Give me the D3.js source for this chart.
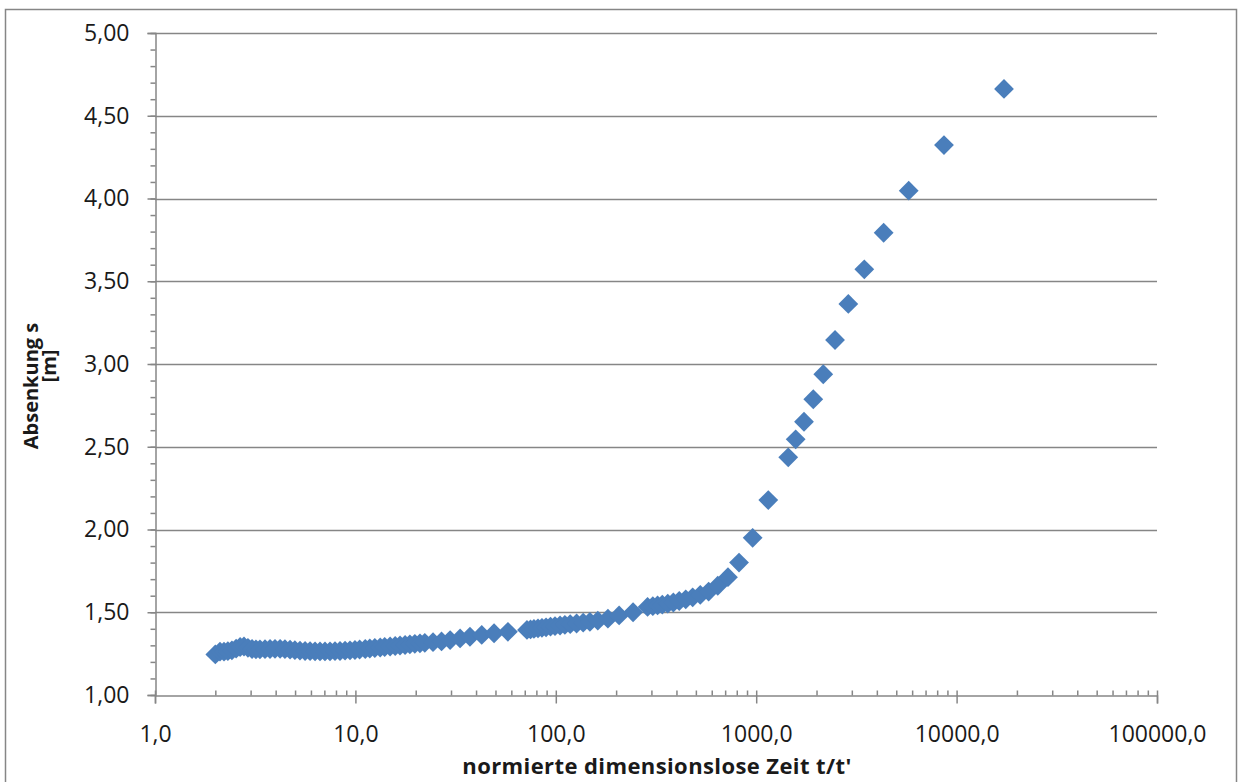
<!DOCTYPE html>
<html>
<head>
<meta charset="utf-8">
<script src="https://cdn.jsdelivr.net/npm/d3@7"></script>
<style>
  body { margin: 0; background: #fff; }
  svg { display: block; }
</style>
</head>
<body>
<svg class="chart" width="1238" height="782"></svg>
<script>
// normierte Zeit t/t'
const timeRatio = [
  2.0, 2.11, 2.21, 2.31, 2.42, 2.54, 2.66, 2.78, 2.91, 3.05, 3.19, 3.34, 3.54, 3.75, 3.97,
  4.21, 4.45, 4.72, 4.99, 5.29, 5.61, 5.94, 6.29, 6.66, 7.05, 7.47, 7.91, 8.38, 8.88, 9.4,
  9.95, 10.5, 11.2, 11.8, 12.5, 13.3, 14.0, 14.9, 15.8, 16.7, 17.7, 18.7, 19.8, 21.0,
  22.2, 24.4, 26.9, 29.7, 33.3, 37.3, 42.7, 49.2, 57.7,
  71.8, 74.8, 77.8, 81.5, 85.3, 89.4, 94.1, 99.1, 105, 111, 118, 127, 137, 148, 162, 182, 207, 243,
  287, 305, 322, 340, 362, 386, 413, 445, 482, 526, 579, 643, 723,
  821, 960, 1149, 1445, 1574, 1732, 1927, 2161, 2474, 2882, 3463, 4325, 5768, 8650, 17240
];

// Absenkung s [m]
const drawdown = [
  1.245, 1.262, 1.262, 1.265, 1.27, 1.28, 1.29, 1.293, 1.285, 1.278, 1.276, 1.276, 1.277, 1.278, 1.279,
  1.279, 1.277, 1.274, 1.271, 1.268, 1.266, 1.265, 1.264, 1.263, 1.263, 1.264, 1.265, 1.266, 1.268, 1.27,
  1.272, 1.275, 1.278, 1.281, 1.284, 1.287, 1.29, 1.293, 1.296, 1.299, 1.302, 1.306, 1.309, 1.312,
  1.315, 1.319, 1.324, 1.332, 1.342, 1.352, 1.363, 1.373, 1.382,
  1.393, 1.396, 1.399, 1.403, 1.406, 1.409, 1.413, 1.416, 1.42, 1.424, 1.428, 1.432, 1.437, 1.442, 1.449, 1.461, 1.481, 1.50,
  1.532, 1.537, 1.541, 1.546, 1.552, 1.559, 1.568, 1.578, 1.59, 1.605, 1.625, 1.66, 1.712,
  1.80, 1.95, 2.178, 2.436, 2.545, 2.651, 2.787, 2.938, 3.145, 3.363, 3.572, 3.793, 4.047, 4.323, 4.662
];

const xTickValues = [1, 10, 100, 1000, 10000, 100000];
const xTickLabels = ["1,0", "10,0", "100,0", "1000,0", "10000,0", "100000,0"];
const yTickValues = [1, 1.5, 2, 2.5, 3, 3.5, 4, 4.5, 5];
const yTickLabels = ["1,00", "1,50", "2,00", "2,50", "3,00", "3,50", "4,00", "4,50", "5,00"];

const svg = d3.select("svg.chart");
const axisColor = "#868686";
const markColor = "#4a7ebb";
const tickFont = "'Open Sans', 'DejaVu Sans', sans-serif";

// chart frame
svg.append("rect")
  .attr("x", 5.5)
  .attr("y", 9.5)
  .attr("width", 1231)
  .attr("height", 800)
  .attr("fill", "none")
  .attr("stroke", axisColor)
  .attr("stroke-width", 1.5);

// prettier-ignore
const x = d3.scaleLog()
  .domain([1, 100000])
  .range([155, 1157]);

// prettier-ignore
const y = d3.scaleLinear()
  .domain([1, 5])
  .range([695, 33]);

// horizontal gridlines
svg.append("g")
  .selectAll("line")
  .data(yTickValues.slice(1))
  .enter()
  .append("line")
  .attr("x1", 155)
  .attr("x2", 1157)
  .attr("y1", (d) => Math.round(y(d)) + 0.5)
  .attr("y2", (d) => Math.round(y(d)) + 0.5)
  .attr("stroke", axisColor)
  .attr("stroke-width", 1.5);

// y axis: minor ticks every 0.1
const yMinor = d3.range(10, 51).map((d) => d / 10);
const yAxisMinor = d3.axisLeft(y).tickValues(yMinor).tickSize(5).tickFormat("");
svg.append("g")
  .attr("transform", "translate(155.5,0)")
  .call(yAxisMinor)
  .call((g) => g.select(".domain").remove())
  .call((g) => g.selectAll("line").attr("stroke", axisColor).attr("stroke-width", 1.5));

const yAxis = d3.axisLeft(y)
  .tickValues(yTickValues)
  .tickSize(8)
  .tickPadding(18)
  .tickFormat((d, i) => yTickLabels[i]);
svg.append("g")
  .attr("transform", "translate(155.5,0)")
  .call(yAxis)
  .call((g) => g.select(".domain").attr("stroke", axisColor).attr("stroke-width", 1.5))
  .call((g) => g.selectAll("line").attr("stroke", axisColor).attr("stroke-width", 1.5))
  .call((g) => g.selectAll("text")
    .attr("fill", "#1a1a1a")
    .style("font-family", tickFont)
    .style("font-size", "23px"));

// x axis: minor ticks (inside) for 2..9 of every decade
const xMinor = [];
xTickValues.slice(0, -1).forEach((dec) => {
  for (let k = 2; k <= 9; k++) xMinor.push(dec * k);
});
const xAxisMinor = d3.axisTop(x).tickValues(xMinor).tickSize(5).tickFormat("");
svg.append("g")
  .attr("transform", "translate(0,695.5)")
  .call(xAxisMinor)
  .call((g) => g.select(".domain").remove())
  .call((g) => g.selectAll("line").attr("stroke", axisColor).attr("stroke-width", 1.5));

const xAxis = d3.axisBottom(x)
  .tickValues(xTickValues)
  .tickSize(8)
  .tickPadding(22)
  .tickFormat((d, i) => xTickLabels[i]);
svg.append("g")
  .attr("transform", "translate(0,695.5)")
  .call(xAxis)
  .call((g) => g.select(".domain").attr("stroke", axisColor).attr("stroke-width", 1.5))
  .call((g) => g.selectAll("line").attr("y1", -5).attr("stroke", axisColor).attr("stroke-width", 1.5))
  .call((g) => g.selectAll("text")
    .attr("fill", "#1a1a1a")
    .style("font-family", tickFont)
    .style("font-size", "23px"));

// diamond markers
const diamond = d3.symbol().type(d3.symbolSquare).size(196);
svg.append("g")
  .selectAll("path")
  .data(timeRatio)
  .enter()
  .append("path")
  .attr("d", diamond)
  .attr("transform", (d, i) => `translate(${x(d)},${y(drawdown[i])}) rotate(45)`)
  .attr("fill", markColor);

// axis titles
svg.append("text")
  .attr("x", 657)
  .attr("y", 774)
  .attr("text-anchor", "middle")
  .style("font-family", tickFont)
  .style("font-weight", "bold")
  .style("font-size", "22px")
  .style("letter-spacing", "0.4px")
  .attr("fill", "#1a1a1a")
  .text("normierte dimensionslose Zeit t/t'");

const yTitle = svg.append("text")
  .attr("transform", "translate(38,386) rotate(-90)")
  .attr("text-anchor", "middle")
  .style("font-family", tickFont)
  .style("font-weight", "bold")
  .style("font-size", "20px")
  .attr("fill", "#1a1a1a");
yTitle.append("tspan").attr("x", 0).attr("y", 0).text("Absenkung s");
yTitle.append("tspan").attr("x", 20).attr("y", 18).text("[m]");
</script>
</body>
</html>
